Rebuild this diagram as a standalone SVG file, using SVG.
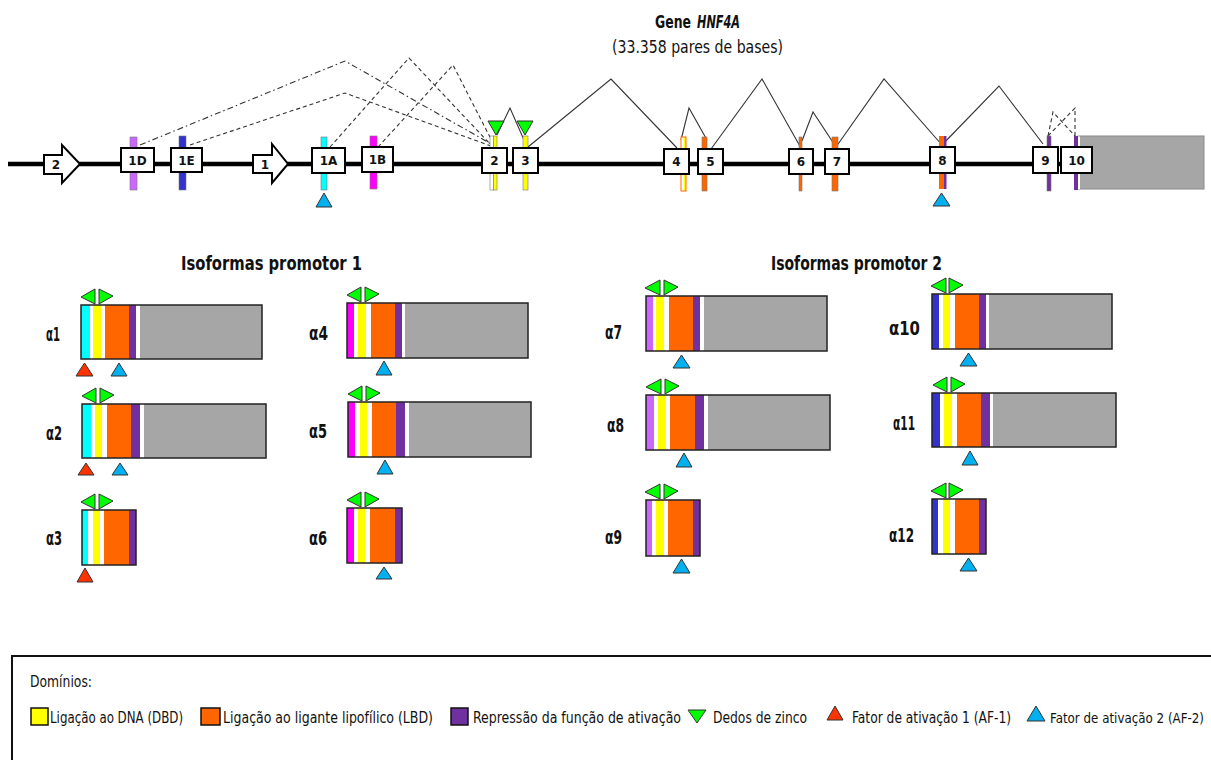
<svg xmlns="http://www.w3.org/2000/svg" width="1211" height="760" viewBox="0 0 1211 760">
<style>
.t{font-family:"DejaVu Sans","Liberation Sans",sans-serif;font-stretch:condensed;fill:#111}
.b{font-weight:bold}
.box{fill:#fff;stroke:#000;stroke-width:2}
.bl{font-family:"DejaVu Sans","Liberation Sans",sans-serif;font-weight:bold;font-size:12px;text-anchor:middle;fill:#111}
.bar{stroke:#777;stroke-width:0.6}
.iso{fill:none;stroke:#222;stroke-width:1.5}
.zf{fill:#00FF00;stroke:#333;stroke-width:1}
.af1{fill:#FF3300;stroke:#333;stroke-width:1}
.af2{fill:#00B0F0;stroke:#333;stroke-width:1}
.cy{fill:#00FFFF}.ye{fill:#FFFF00}.or{fill:#FF6600}.pu{fill:#7030A0}.gr{fill:#A6A6A6}.mg{fill:#FF00FF}.vi{fill:#CC66FF}.bu{fill:#3333CC}.wh{fill:#fff}
.dash{fill:none;stroke:#333;stroke-width:1.1;stroke-dasharray:4 3}
.dd{fill:none;stroke:#333;stroke-width:1.1;stroke-dasharray:6 3 1.5 3}
.sol{fill:none;stroke:#333;stroke-width:1.1}
.lab{font-size:19px;font-weight:bold}
.lg{font-size:16px}
</style>

<g id="title">
<text class="t b" x="655" y="28" font-size="17" textLength="36" lengthAdjust="spacingAndGlyphs">Gene</text>
<text class="t b" x="697" y="28" font-size="17" font-style="italic" textLength="43" lengthAdjust="spacingAndGlyphs">HNF4A</text>
<text class="t" x="612" y="53" font-size="17" textLength="171" lengthAdjust="spacingAndGlyphs">(33.358 pares de bases)</text>
</g>

<g id="gene-line"><line x1="8" y1="164" x2="1080" y2="164" stroke="#000" stroke-width="4.5"/></g>

<g id="connectors">
<path class="dd" d="M140,145 L345,61 L493,145"/>
<path class="dash" d="M190,145 L345,93 L491,146"/>
<path class="dash" d="M330,147 L409,58 L491,145"/>
<path class="dash" d="M378,147 L453,65 L494,145"/>
<path class="dash" d="M1048,136 L1053,112 L1075,136"/>
<path class="dash" d="M1048,136 L1075,108 L1075,136"/>
<path class="sol" d="M497,135 L510,108 L524,140"/>
<path class="sol" d="M528,147 L611,79 L677,148"/>
<path class="sol" d="M681,140 L689,108 L707,140"/>
<path class="sol" d="M711,149 L762,79 L801,148"/>
<path class="sol" d="M802,141 L813,112 L836,147"/>
<path class="sol" d="M836,147 L884,79 L942,145"/>
<path class="sol" d="M942,145 L999,86 L1043,144"/>
</g>

<g id="promoter2">
<polygon class="box" points="44,155 62,155 62,145 80,164 62,183 62,174 44,174"/>
<text class="bl" x="56" y="169">2</text>
</g>
<g id="promoter1">
<polygon class="box" points="253,155 272,155 272,144 288,164 272,183 272,173 253,173"/>
<text class="bl" x="265" y="168.5">1</text>
</g>

<g id="exon-1D">
<rect class="bar vi" x="130" y="137" width="7" height="53"/>
<rect class="box" x="121" y="148" width="33" height="24"/>
<text class="bl" x="137.5" y="164.5">1D</text>
</g>
<g id="exon-1E">
<rect class="bar bu" x="179" y="136" width="7" height="54"/>
<rect class="box" x="171" y="148" width="31" height="24"/>
<text class="bl" x="186.5" y="164.5">1E</text>
</g>
<g id="exon-1A">
<rect class="bar cy" x="321" y="137" width="6" height="53"/>
<rect class="box" x="312" y="148" width="33" height="25"/>
<text class="bl" x="328.5" y="165">1A</text>
<polygon class="af2" points="316,207 332,207 324,193"/>
</g>
<g id="exon-1B">
<rect class="bar mg" x="370" y="136" width="7" height="53"/>
<rect class="box" x="362" y="147" width="31" height="25"/>
<text class="bl" x="377.5" y="164">1B</text>
</g>
<g id="exon-2">
<rect class="bar wh" x="490" y="136" width="3.5" height="54"/>
<rect class="bar ye" x="493.5" y="136" width="3.5" height="54"/>
<rect class="box" x="482" y="148" width="25" height="25"/>
<text class="bl" x="494.5" y="165">2</text>
<polygon class="zf" points="488,121 504,121 496,135"/>
</g>
<g id="exon-3">
<rect class="bar ye" x="523" y="136" width="5" height="54"/>
<rect class="box" x="513" y="148" width="25" height="25"/>
<text class="bl" x="525.5" y="165">3</text>
<polygon class="zf" points="517,121 533,121 525,135"/>
</g>
<g id="exon-4">
<rect x="681" y="137" width="2.5" height="54" fill="#fff"/>
<rect x="683.5" y="137" width="2.5" height="54" fill="#FFFF00"/>
<rect x="681" y="137" width="5" height="54" fill="none" stroke="#FF6600" stroke-width="1"/>
<rect class="box" x="664" y="149" width="25" height="25"/>
<text class="bl" x="676.5" y="166">4</text>
</g>
<g id="exon-5">
<rect class="bar or" x="702" y="137" width="5" height="54"/>
<rect class="box" x="698" y="149" width="25" height="25"/>
<text class="bl" x="710.5" y="166">5</text>
</g>
<g id="exon-6">
<rect class="bar or" x="799" y="137" width="3" height="54"/>
<rect class="box" x="789" y="149" width="24" height="25"/>
<text class="bl" x="801" y="166">6</text>
</g>
<g id="exon-7">
<rect class="bar or" x="832" y="137" width="6" height="54"/>
<rect class="box" x="825" y="149" width="24" height="25"/>
<text class="bl" x="837" y="166">7</text>
</g>
<g id="exon-8">
<rect class="or" x="939" y="136" width="5" height="53"/>
<rect class="pu" x="944" y="136" width="2.5" height="53"/>
<rect class="box" x="930" y="147" width="25" height="26"/>
<text class="bl" x="942.5" y="164.5">8</text>
<polygon class="af2" points="933,206 950,206 941.5,193"/>
</g>
<g id="exon-9">
<rect class="bar pu" x="1047" y="136" width="4" height="55"/>
<rect class="box" x="1033" y="147" width="25" height="26"/>
<text class="bl" x="1045.5" y="164.5">9</text>
</g>
<g id="exon-10">
<rect x="1078" y="136" width="126" height="53" fill="#A6A6A6" stroke="#8a8a8a" stroke-width="1"/>
<rect class="pu" x="1074" y="136" width="4" height="54"/>
<rect class="wh" x="1078" y="136.5" width="2" height="52.5"/>
<rect class="box" x="1061" y="147" width="31" height="26"/>
<text class="bl" x="1076.5" y="164.5">10</text>
</g>

<g id="heading-1"><text class="t b" x="181" y="270" font-size="19" textLength="181" lengthAdjust="spacingAndGlyphs">Isoformas promotor 1</text></g>
<g id="heading-2"><text class="t b" x="771" y="270" font-size="19" textLength="171" lengthAdjust="spacingAndGlyphs">Isoformas promotor 2</text></g>

<g id="iso-a1">
<text class="t lab" x="46" y="341" textLength="14" lengthAdjust="spacingAndGlyphs">α1</text>
<rect class="cy" x="81" y="305" width="9" height="54"/><rect class="wh" x="90" y="305" width="3" height="54"/>
<rect class="ye" x="93" y="305" width="8" height="54"/><rect class="wh" x="101" y="305" width="4" height="54"/>
<rect class="or" x="105" y="305" width="24" height="54"/><rect class="pu" x="129" y="305" width="7" height="54"/>
<rect class="wh" x="136" y="305" width="4" height="54"/><rect class="gr" x="140" y="305" width="122" height="54"/>
<rect class="iso" x="81" y="305" width="181" height="54"/>
<polygon class="zf" points="81,297 95,289 95,304"/><polygon class="zf" points="99,289 99,304 113,296"/>
<polygon class="af1" points="76,376 93,376 84.5,363"/><polygon class="af2" points="111,376 127,376 119,363"/>
</g>
<g id="iso-a2">
<text class="t lab" x="46" y="440" textLength="16" lengthAdjust="spacingAndGlyphs">α2</text>
<rect class="cy" x="82" y="404" width="9" height="54"/><rect class="wh" x="91" y="404" width="4" height="54"/>
<rect class="ye" x="95" y="404" width="7" height="54"/><rect class="wh" x="102" y="404" width="5" height="54"/>
<rect class="or" x="107" y="404" width="24" height="54"/><rect class="pu" x="131" y="404" width="9" height="54"/>
<rect class="wh" x="140" y="404" width="4" height="54"/><rect class="gr" x="144" y="404" width="122" height="54"/>
<rect class="iso" x="82" y="404" width="184" height="54"/>
<polygon class="zf" points="82,396 96,388 96,403"/><polygon class="zf" points="100,388 100,403 114,395"/>
<polygon class="af1" points="78,475 94,475 86,463"/><polygon class="af2" points="112,475 128,475 120,463"/>
</g>
<g id="iso-a3">
<text class="t lab" x="46" y="545" textLength="16" lengthAdjust="spacingAndGlyphs">α3</text>
<rect class="cy" x="82" y="510" width="6" height="55"/><rect class="wh" x="88" y="510" width="5" height="55"/>
<rect class="ye" x="93" y="510" width="7" height="55"/><rect class="wh" x="100" y="510" width="4" height="55"/>
<rect class="or" x="104" y="510" width="25" height="55"/><rect class="pu" x="129" y="510" width="7" height="55"/>
<rect class="iso" x="82" y="510" width="54" height="55"/>
<polygon class="zf" points="81,502 95,494 95,509"/><polygon class="zf" points="99,494 99,509 113,501"/>
<polygon class="af1" points="77,582 93,582 85,568"/>
</g>
<g id="iso-a4">
<text class="t lab" x="309" y="340" textLength="19" lengthAdjust="spacingAndGlyphs">α4</text>
<rect class="mg" x="347" y="303" width="7" height="55"/><rect class="wh" x="354" y="303" width="4" height="55"/>
<rect class="ye" x="358" y="303" width="8" height="55"/><rect class="wh" x="366" y="303" width="5" height="55"/>
<rect class="or" x="371" y="303" width="24" height="55"/><rect class="pu" x="395" y="303" width="7" height="55"/>
<rect class="wh" x="402" y="303" width="3" height="55"/><rect class="gr" x="405" y="303" width="123" height="55"/>
<rect class="iso" x="347" y="303" width="181" height="55"/>
<polygon class="zf" points="347,295 361,287 361,302"/><polygon class="zf" points="365,287 365,302 379,294"/>
<polygon class="af2" points="376,375 392,375 384,361"/>
</g>
<g id="iso-a5">
<text class="t lab" x="309" y="438" textLength="18" lengthAdjust="spacingAndGlyphs">α5</text>
<rect class="mg" x="348" y="402" width="7" height="55"/><rect class="wh" x="355" y="402" width="5" height="55"/>
<rect class="ye" x="360" y="402" width="7" height="55"/><rect class="wh" x="367" y="402" width="5" height="55"/>
<rect class="or" x="372" y="402" width="24" height="55"/><rect class="pu" x="396" y="402" width="9" height="55"/>
<rect class="wh" x="405" y="402" width="4" height="55"/><rect class="gr" x="409" y="402" width="122" height="55"/>
<rect class="iso" x="348" y="402" width="183" height="55"/>
<polygon class="zf" points="348,394 362,386 362,401"/><polygon class="zf" points="366,386 366,401 380,393"/>
<polygon class="af2" points="377,474 393,474 385,460"/>
</g>
<g id="iso-a6">
<text class="t lab" x="309" y="545" textLength="18" lengthAdjust="spacingAndGlyphs">α6</text>
<rect class="mg" x="347" y="508" width="7" height="55"/><rect class="wh" x="354" y="508" width="4" height="55"/>
<rect class="ye" x="358" y="508" width="7" height="55"/><rect class="wh" x="365" y="508" width="5" height="55"/>
<rect class="or" x="370" y="508" width="25" height="55"/><rect class="pu" x="395" y="508" width="7" height="55"/>
<rect class="iso" x="347" y="508" width="55" height="55"/>
<polygon class="zf" points="347,500 361,492 361,507"/><polygon class="zf" points="365,492 365,507 379,499"/>
<polygon class="af2" points="376,579 392,579 384,567"/>
</g>

<g id="iso-a7">
<text class="t lab" x="605" y="339" textLength="17" lengthAdjust="spacingAndGlyphs">α7</text>
<rect class="vi" x="646" y="296" width="7" height="55"/><rect class="wh" x="653" y="296" width="3" height="55"/>
<rect class="ye" x="656" y="296" width="8" height="55"/><rect class="wh" x="664" y="296" width="5" height="55"/>
<rect class="or" x="669" y="296" width="24" height="55"/><rect class="pu" x="693" y="296" width="7" height="55"/>
<rect class="wh" x="700" y="296" width="4" height="55"/><rect class="gr" x="704" y="296" width="123" height="55"/>
<rect class="iso" x="646" y="296" width="181" height="55"/>
<polygon class="zf" points="645,288 660,280 660,295"/><polygon class="zf" points="664,280 664,295 678,287"/>
<polygon class="af2" points="673,368 690,368 681.5,355"/>
</g>
<g id="iso-a8">
<text class="t lab" x="607" y="432" textLength="17" lengthAdjust="spacingAndGlyphs">α8</text>
<rect class="vi" x="646" y="395" width="8" height="55"/><rect class="wh" x="654" y="395" width="4" height="55"/>
<rect class="ye" x="658" y="395" width="8" height="55"/><rect class="wh" x="666" y="395" width="4" height="55"/>
<rect class="or" x="670" y="395" width="25" height="55"/><rect class="pu" x="695" y="395" width="9" height="55"/>
<rect class="wh" x="704" y="395" width="4" height="55"/><rect class="gr" x="708" y="395" width="122" height="55"/>
<rect class="iso" x="646" y="395" width="184" height="55"/>
<polygon class="zf" points="646,387 661,379 661,394"/><polygon class="zf" points="665,379 665,394 679,386"/>
<polygon class="af2" points="676,467 692,467 684,453"/>
</g>
<g id="iso-a9">
<text class="t lab" x="605" y="544" textLength="17" lengthAdjust="spacingAndGlyphs">α9</text>
<rect class="vi" x="646" y="500" width="6" height="56"/><rect class="wh" x="652" y="500" width="4" height="56"/>
<rect class="ye" x="656" y="500" width="8" height="56"/><rect class="wh" x="664" y="500" width="4" height="56"/>
<rect class="or" x="668" y="500" width="25" height="56"/><rect class="pu" x="693" y="500" width="7" height="56"/>
<rect class="iso" x="646" y="500" width="54" height="56"/>
<polygon class="zf" points="645,492 660,484 660,499"/><polygon class="zf" points="664,484 664,499 678,491"/>
<polygon class="af2" points="673,573 690,573 681.5,559"/>
</g>
<g id="iso-a10">
<text class="t lab" x="889" y="335" textLength="31" lengthAdjust="spacingAndGlyphs">α10</text>
<rect class="bu" x="932" y="294" width="7" height="55"/><rect class="wh" x="939" y="294" width="4" height="55"/>
<rect class="ye" x="943" y="294" width="7" height="55"/><rect class="wh" x="950" y="294" width="5" height="55"/>
<rect class="or" x="955" y="294" width="24" height="55"/><rect class="pu" x="979" y="294" width="7" height="55"/>
<rect class="wh" x="986" y="294" width="3" height="55"/><rect class="gr" x="989" y="294" width="123" height="55"/>
<rect class="iso" x="932" y="294" width="180" height="55"/>
<polygon class="zf" points="931,286 946,278 946,293"/><polygon class="zf" points="949,278 949,293 963,285"/>
<polygon class="af2" points="960,366 977,366 968.5,353"/>
</g>
<g id="iso-a11">
<text class="t lab" x="893" y="430" textLength="22" lengthAdjust="spacingAndGlyphs">α11</text>
<rect class="bu" x="932" y="393" width="8" height="54"/><rect class="wh" x="940" y="393" width="4" height="54"/>
<rect class="ye" x="944" y="393" width="8" height="54"/><rect class="wh" x="952" y="393" width="5" height="54"/>
<rect class="or" x="957" y="393" width="24" height="54"/><rect class="pu" x="981" y="393" width="9" height="54"/>
<rect class="wh" x="990" y="393" width="3" height="54"/><rect class="gr" x="993" y="393" width="123" height="54"/>
<rect class="iso" x="932" y="393" width="184" height="54"/>
<polygon class="zf" points="933,385 947,377 947,392"/><polygon class="zf" points="951,377 951,392 965,384"/>
<polygon class="af2" points="962,465 978,465 970,451"/>
</g>
<g id="iso-a12">
<text class="t lab" x="889" y="542" textLength="25" lengthAdjust="spacingAndGlyphs">α12</text>
<rect class="bu" x="932" y="499" width="6" height="55"/><rect class="wh" x="938" y="499" width="5" height="55"/>
<rect class="ye" x="943" y="499" width="7" height="55"/><rect class="wh" x="950" y="499" width="5" height="55"/>
<rect class="or" x="955" y="499" width="24" height="55"/><rect class="pu" x="979" y="499" width="7" height="55"/>
<rect class="iso" x="932" y="499" width="54" height="55"/>
<polygon class="zf" points="931,491 946,483 946,498"/><polygon class="zf" points="949,483 949,498 963,490"/>
<polygon class="af2" points="960,571 977,571 968.5,558"/>
</g>

<g id="legend">
<rect x="12" y="656" width="1220" height="130" fill="#fff" stroke="#111" stroke-width="2"/>
<text class="t" x="30" y="687" font-size="15" textLength="62" lengthAdjust="spacingAndGlyphs">Domínios:</text>
<rect x="31" y="708" width="17" height="17" fill="#FFFF00" stroke="#111" stroke-width="1.5"/>
<text class="t lg" x="50" y="723" textLength="133" lengthAdjust="spacingAndGlyphs">Ligação ao DNA (DBD)</text>
<rect x="201" y="708" width="19" height="17" fill="#FF6600" stroke="#111" stroke-width="1.5"/>
<text class="t lg" x="223" y="723" textLength="210" lengthAdjust="spacingAndGlyphs">Ligação ao ligante lipofílico (LBD)</text>
<rect x="451" y="708" width="17" height="17" fill="#7030A0" stroke="#111" stroke-width="1.5"/>
<text class="t lg" x="473" y="723" textLength="208" lengthAdjust="spacingAndGlyphs">Repressão da função de ativação</text>
<polygon class="zf" points="688,710 706,710 697,723"/>
<text class="t lg" x="713" y="723" textLength="94" lengthAdjust="spacingAndGlyphs">Dedos de zinco</text>
<polygon class="af1" points="827,720 843,720 835,706"/>
<text class="t lg" x="852" y="723" textLength="159" lengthAdjust="spacingAndGlyphs">Fator de ativação 1 (AF-1)</text>
<polygon class="af2" points="1027,721 1045,721 1036,706"/>
<text class="t" x="1050" y="723" font-size="14" textLength="154" lengthAdjust="spacingAndGlyphs">Fator de ativação 2 (AF-2)</text>
</g>
</svg>
